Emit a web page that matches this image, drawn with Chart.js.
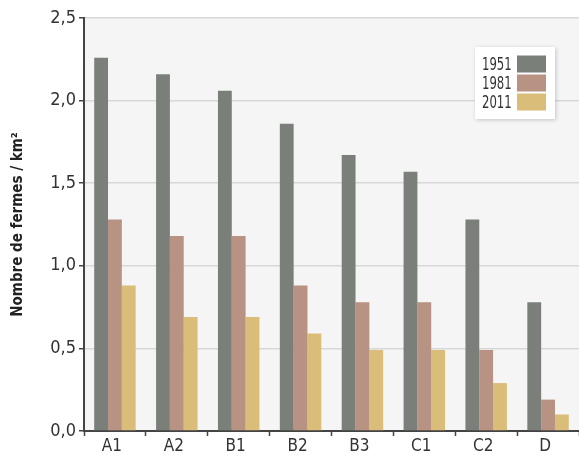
<!DOCTYPE html>
<html>
<head>
<meta charset="utf-8">
<script src="https://cdn.jsdelivr.net/npm/chart.js@4"></script>
<style>
  html, body { margin: 0; padding: 0; background: #fff; }
  #wrap { width: 579px; height: 455px; position: relative; }
</style>
</head>
<body>
<div id="wrap"><canvas id="chart"></canvas></div>
<script>
const categories = ['A1', 'A2', 'B1', 'B2', 'B3', 'C1', 'C2', 'D'];
const years = ['1951', '1981', '2011'];
const values1951 = [2.26, 2.16, 2.06, 1.86, 1.67, 1.57, 1.28, 0.78];
const values1981 = [1.28, 1.18, 1.18, 0.88, 0.78, 0.78, 0.49, 0.19];
const values2011 = [0.88, 0.69, 0.69, 0.59, 0.49, 0.49, 0.29, 0.10];
const colors = ['#7a7f7a', '#b89282', '#d9bd78'];

const FONT = "'DejaVu Sans Condensed', 'Liberation Sans Narrow', sans-serif";

// grey plot background
const plotBg = {
  id: 'plotBg',
  beforeDraw: (chart) => {
    const { ctx, chartArea: a } = chart;
    ctx.save();
    ctx.fillStyle = '#f5f5f5';
    ctx.fillRect(a.left, a.top, a.right - a.left, a.bottom - a.top);
    ctx.restore();
  }
};

// boxed legend, labels left and swatches right
const boxLegend = {
  id: 'boxLegend',
  afterDraw: (chart) => {
    const ctx = chart.ctx;
    const x = 475, y = 47, w = 80, h = 72;
    ctx.save();
    ctx.shadowColor = 'rgba(0,0,0,0.2)';
    ctx.shadowBlur = 4;
    ctx.shadowOffsetX = 1;
    ctx.shadowOffsetY = 1;
    ctx.fillStyle = '#ffffff';
    ctx.fillRect(x, y, w, h);
    ctx.restore();
    chart.data.datasets.forEach((ds, i) => {
      const cy = y + 17 + i * 19;
      ctx.save();
      ctx.fillStyle = ds.backgroundColor;
      ctx.fillRect(x + 42, cy - 8.5, 29, 17);
      ctx.translate(x + 7, cy);
      ctx.scale(0.72, 1);
      ctx.font = '18px ' + FONT;
      ctx.fillStyle = '#333';
      ctx.textAlign = 'left';
      ctx.textBaseline = 'middle';
      ctx.fillText(ds.label, 0, 1);
      ctx.restore();
    });
  }
};

new Chart(document.getElementById('chart'), {
  type: 'bar',
  data: {
    labels: categories,
    datasets: [
      { label: years[0], data: values1951, backgroundColor: colors[0] },
      { label: years[1], data: values1981, backgroundColor: colors[1] },
      { label: years[2], data: values2011, backgroundColor: colors[2] }
    ]
  },
  options: {
    responsive: true,
    maintainAspectRatio: false,
    animation: false,
    events: [],
    layout: { padding: { top: 18, right: 0, bottom: 0, left: 0 } },
    datasets: {
      bar: { categoryPercentage: 0.67, barPercentage: 1.0 }
    },
    plugins: {
      legend: { display: false },
      tooltip: { enabled: false }
    },
    scales: {
      x: {
        grid: {
          offset: true,
          drawOnChartArea: false,
          tickColor: '#444',
          tickLength: 5,
          tickWidth: 1.5
        },
        border: { color: '#444', width: 2 },
        ticks: {
          color: '#333',
          font: { family: FONT, size: 17 },
          padding: 0,
          labelOffset: -3
        },
        afterFit: (scale) => { scale.height = 24; }
      },
      y: {
        min: 0,
        max: 2.5,
        grid: {
          color: '#d8d8d8',
          lineWidth: 1.5,
          tickColor: '#444',
          tickLength: 5
        },
        border: { color: '#444', width: 2 },
        ticks: {
          stepSize: 0.5,
          color: '#333',
          font: { family: FONT, size: 18 },
          padding: 3,
          callback: (v) => v.toFixed(1).replace('.', ',')
        },
        title: {
          display: true,
          text: 'Nombre de fermes / km²',
          color: '#222',
          font: { family: FONT, size: 15, weight: 'bold' },
          padding: { top: 9, bottom: 0 }
        },
        afterFit: (scale) => { scale.width = 84; }
      }
    }
  },
  plugins: [plotBg, boxLegend]
});
</script>
</body>
</html>
